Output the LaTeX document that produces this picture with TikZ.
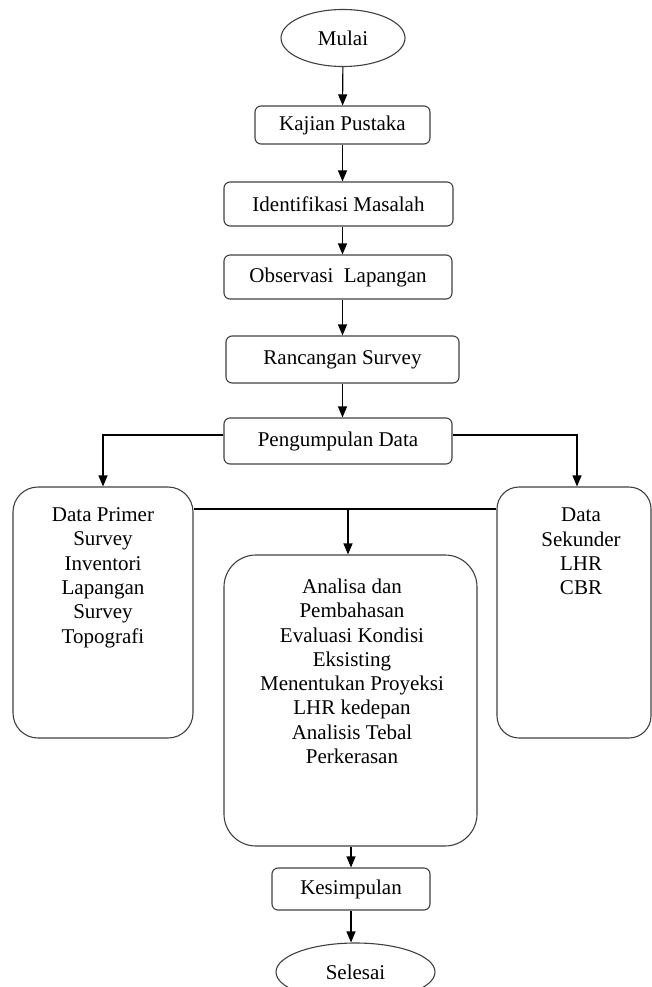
\documentclass[tikz,border=0pt]{standalone}
\usepackage{fontspec}
\setmainfont{Liberation Serif}
\usetikzlibrary{arrows.meta,positioning,shapes.geometric}

\begin{document}
\begin{tikzpicture}[x=1pt, y=-1pt,
  every node/.style={font=\fontsize{21}{24.3}\selectfont},
  flow/.style={draw=black!75, line width=1.1pt, rounded corners=6pt, inner sep=0pt},
  terminal/.style={draw=black!75, line width=1.1pt, ellipse, inner sep=0pt},
  tall/.style={draw=black!75, line width=1.1pt, inner sep=0pt},
  txt/.style={align=center, inner sep=0pt, anchor=north},
  arr/.style={-{Triangle[length=11pt,width=9pt]}, line width=1.1pt},
]
\useasboundingbox (0,0) rectangle (652,987);
% main chain
\node[terminal, minimum width=124pt, minimum height=57pt] (mulai) at (343,38) {Mulai};
\node[flow, minimum width=175pt, minimum height=38pt] (kajian) at (342.5,125) {Kajian Pustaka};
\node[flow, minimum width=229pt, minimum height=44pt] (ident) at (338.5,204) {Identifikasi Masalah};
\node[flow, minimum width=228pt, minimum height=44pt] (obs) at (338,277) {Observasi\ \ Lapangan};
\node[flow, minimum width=233pt, minimum height=47pt] (ranc) at (342.5,359.5) {Rancangan Survey};
\node[flow, minimum width=228pt, minimum height=46pt] (peng) at (338,441) {Pengumpulan Data};
% data boxes
\node[tall, rounded corners=25pt, minimum width=180pt, minimum height=251pt] (prim) at (103,612.5) {};
\node[txt] (primtxt) at (103,507.5) {Data Primer\\Survey\\Inventori\\Lapangan\\Survey\\Topografi};
\node[tall, rounded corners=22pt, minimum width=154pt, minimum height=251pt] (sek) at (574,612.5) {};
\node[txt] (sektxt) at (581,508) {Data\\Sekunder\\LHR\\CBR};
\node[tall, rounded corners=32pt, minimum width=253pt, minimum height=291pt] (anal) at (350.5,700.5) {};
\node[txt] (analtxt) at (352,578.7) {Analisa dan\\Pembahasan\\Evaluasi Kondisi\\Eksisting\\Menentukan Proyeksi\\LHR kedepan\\Analisis Tebal\\Perkerasan};
% end
\node[flow, minimum width=158pt, minimum height=42pt] (kes) at (351,889) {Kesimpulan};
\node[terminal, minimum width=159pt, minimum height=58pt] (sel) at (355.5,972) {Selesai};
\coordinate (join) at (348,509);

\draw[arr] (mulai) -- (kajian);
\draw[arr] (kajian.south) -- (kajian.south |- ident.north);
\draw[arr] (ident.south -| kajian.south) -- (obs.north -| kajian.south);
\draw[arr] (obs.south -| kajian.south) -- (ranc.north -| kajian.south);
\draw[arr] (ranc.south -| kajian.south) -- (peng.north -| kajian.south);
\draw[arr] ([yshift=6pt]peng.west) -| (prim.north);
\draw[arr] ([yshift=6pt]peng.east) -| ([xshift=3pt]sek.north);
\draw[line width=1.1pt] (prim.east |- join) -- (sek.west |- join);
\draw[arr] (join) -- (join |- anal.north);
\draw[arr] (kes.north |- anal.south) -- (kes.north);
\draw[arr] (kes.south) -- (kes.south |- sel.north);
\end{tikzpicture}
\end{document}
